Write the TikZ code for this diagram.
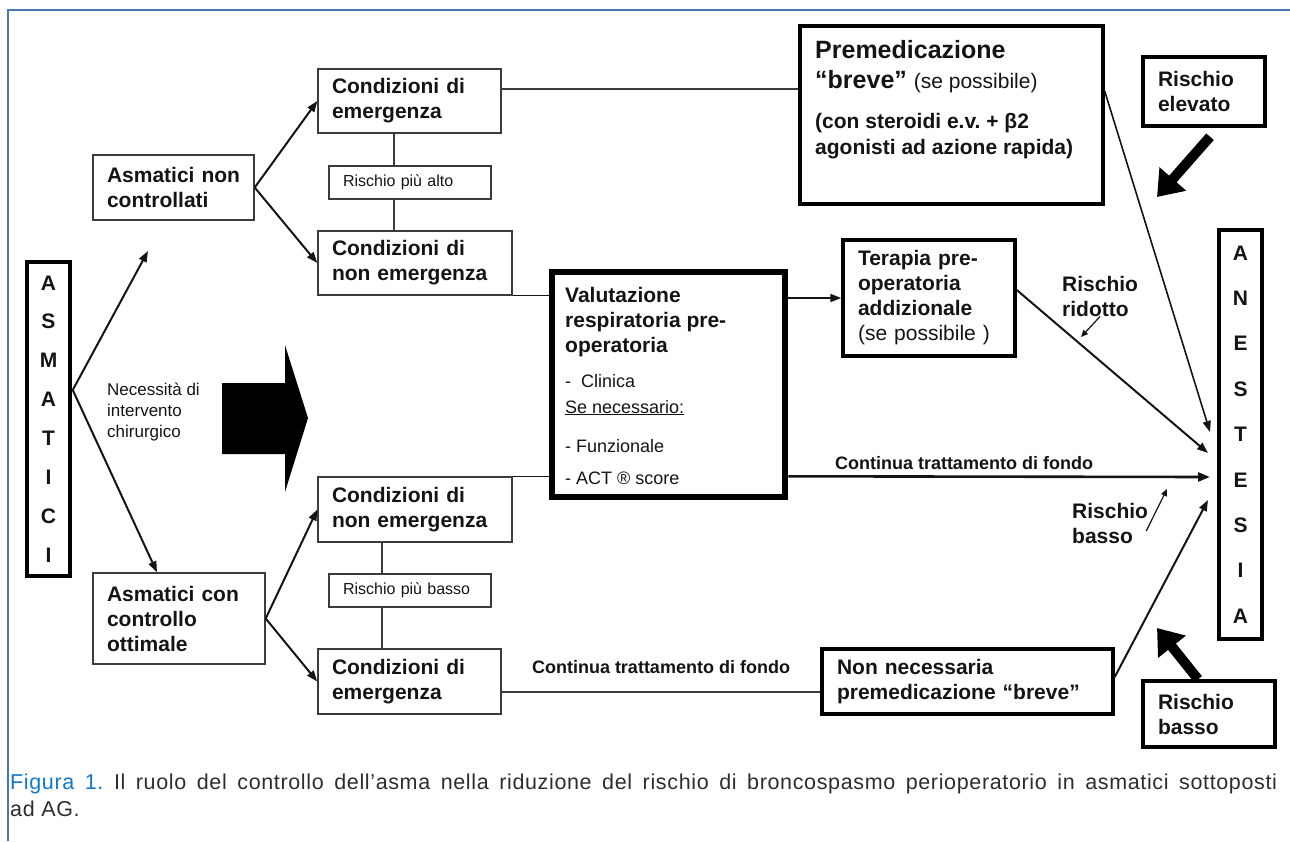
\documentclass[tikz,border=0pt]{standalone}
\usepackage{fontspec}
\setmainfont{Liberation Sans}
\usetikzlibrary{arrows.meta,calc}
\definecolor{frameblue}{RGB}{70,120,180}
\definecolor{capblue}{RGB}{20,120,200}
\definecolor{captext}{RGB}{45,45,45}
\definecolor{boxgray}{RGB}{60,60,60}
\definecolor{ink}{RGB}{20,20,20}
\begin{document}
\frenchspacing
\begin{tikzpicture}[x=1pt,y=-1pt,
  every node/.style={text=ink},
  thinbox/.style={draw=boxgray,line width=1.4pt,inner xsep=14pt,inner ysep=0pt,align=left},
  thickbox/.style={draw=black,line width=3.5pt,inner xsep=15pt,inner ysep=0pt,align=left},
  bt/.style={font=\fontsize{21}{25}\selectfont\bfseries},
  bts/.style={font=\fontsize{18}{22}\selectfont\bfseries},
  rt/.style={font=\fontsize{16}{20}\selectfont},
  vt/.style={font=\fontsize{18}{22}\selectfont},
  txt/.style={anchor=base west,inner sep=0pt},
  arr/.style={draw=ink,line width=2pt,-{Triangle[length=11pt,width=8pt]}},
  arrl/.style={draw=ink,line width=1.6pt,-{Triangle[length=11pt,width=8pt]}},
  small/.style={draw=ink,line width=1.2pt,-{Triangle[length=7pt,width=6pt]}},
  plain/.style={draw=boxgray,line width=1.4pt},
  bigarr/.style={draw=black,line width=10pt,-{Triangle[length=24pt,width=34pt]}}
]
\useasboundingbox (0,0) rectangle (1290,841);
% frame
\draw[frameblue,line width=1.5pt] (8,841) -- (8,10) -- (1290,10);

% left column
\node[thickbox,inner xsep=0pt,align=center,minimum width=43pt,minimum height=314pt,text width=43pt,
      font=\fontsize{21}{38.9}\selectfont\bfseries] (asm) at (48.5,419) {A\\S\\M\\A\\T\\I\\C\\I};
\node[thinbox,bt,minimum width=161pt,minimum height=65pt,text width=133pt] (anc) at (173.5,187.5) {\mbox{Asmatici non}\\\mbox{controllati}};
\node[thinbox,bt,minimum width=172pt,minimum height=91pt,text width=144pt] (acc) at (179,618.5) {\mbox{Asmatici con}\\controllo\\ottimale};
\node[anchor=west,align=left,inner sep=0pt,font=\fontsize{17}{21}\selectfont] (nec) at (107,412) {Necessità di\\intervento\\chirurgico};
\fill[black] (222,383) -- (285,383) -- (285,345) -- (308,418) -- (285,492) -- (285,454) -- (222,454) -- cycle;

% condizioni
\node[thinbox,bt,minimum width=183pt,minimum height=64pt,text width=155pt] (ce1) at (409.5,101) {Condizioni di\\emergenza};
\node[thinbox,rt,minimum width=162pt,minimum height=33pt,text width=134pt] (rpa) at (410,182.5) {Rischio più alto};
\node[thinbox,bt,minimum width=194pt,minimum height=64pt,text width=166pt] (cn1) at (415,263) {Condizioni di\\non emergenza};
\node[thinbox,bt,minimum width=194pt,minimum height=65pt,text width=166pt] (cn2) at (415,509.5) {Condizioni di\\non emergenza};
\node[thinbox,rt,minimum width=162pt,minimum height=33pt,text width=134pt] (rpb) at (410,590.5) {Rischio più basso};
\node[thinbox,bt,minimum width=183pt,minimum height=65pt,text width=155pt] (ce2) at (409.5,681.5) {Condizioni di\\emergenza};

% premedicazione
\node[thickbox,minimum width=303pt,minimum height=178pt] (prem) at (951.5,115) {};
\node[txt,font=\fontsize{25}{30}\selectfont\bfseries] (p1) at (815,58) {Premedicazione};
\node[txt,font=\fontsize{25}{30}\selectfont\bfseries] (p2) at (815,88) {“breve”\ {\mdseries\fontsize{21}{25}\selectfont(se possibile)}};
\node[txt,bt] (p3) at (815,128) {(con steroidi e.v. + β2};
\node[txt,bt] (p4) at (815,154) {agonisti ad azione rapida)};

\node[thickbox,bt,minimum width=122pt,minimum height=69pt,text width=92pt] (rel) at (1204,91.5) {Rischio\\elevato};

% valutazione
\node[draw=black,line width=6.5pt,minimum width=233pt,minimum height=225pt,inner sep=0pt] (val) at (668.5,384.5) {};
\node[txt,bt] (v1) at (565,302) {Valutazione};
\node[txt,bt] (v2) at (565,327) {respiratoria pre-};
\node[txt,bt] (v3) at (565,352) {operatoria};
\node[txt,vt] (v4) at (565,387) {-\ \ Clinica};
\node[txt,vt] (v5) at (565,413) {\underline{Se necessario:}};
\node[txt,vt] (v6) at (565,452) {- Funzionale};
\node[txt,vt] (v7) at (565,484) {- ACT ® score};

\node[thickbox,bt,minimum width=172pt,minimum height=116pt,text width=142pt] (ter) at (929,298) {Terapia pre-\\operatoria\\addizionale\\{\mdseries(se possibile )}};

\node[thickbox,bt,minimum width=291pt,minimum height=65pt,text width=261pt] (nn) at (967.5,681.5) {Non necessaria\\\mbox{premedicazione “breve”}};
\node[thickbox,bt,minimum width=132pt,minimum height=66pt,text width=102pt] (rb) at (1209,714) {Rischio\\basso};

\node[thickbox,inner xsep=0pt,align=center,minimum width=43pt,minimum height=409pt,text width=43pt,
      font=\fontsize{21}{45.4}\selectfont\bfseries] (ane) at (1240.5,434.5) {A\\N\\E\\S\\T\\E\\S\\I\\A};

% labels
\node[bts,inner sep=0pt] (ct1) at (964,463) {Continua trattamento di fondo};
\node[bts,inner sep=0pt] (ct2) at (661,667) {Continua trattamento di fondo};
\node[anchor=west,align=left,inner sep=0pt,bt] (rrl) at (1062,296) {Rischio\\ridotto};
\node[anchor=west,align=left,inner sep=0pt,bt] (rbl) at (1072,523) {Rischio\\basso};

% free ends
\coordinate (up) at (148,251);
\coordinate (a1) at (1210,432);
\coordinate (a2) at (1208,453);
\coordinate (a3) at (1210,477);
\coordinate (a4) at (1208,500);
\coordinate (relt) at (1157,197);
\coordinate (rbt) at (1157,628);
\coordinate (rrt) at (1081,337);
\coordinate (rbbt) at (1167,489);

% connectors left
\draw[arr] ($(asm.east)+(1,-29)$) -- (up);
\draw[arr] ($(asm.east)+(1,-29)$) -- ($(acc.north)+(-22,0)$);
\draw[arr] (anc.east) -- (ce1.west);
\draw[arr] (anc.east) -- (cn1.west);
\draw[arr] (acc.east) -- (cn2.west);
\draw[arr] (acc.east) -- (ce2.west);
\draw[plain] ($(ce1.south)+(-15.5,0)$) -- ($(rpa.north)+(-16,0)$);
\draw[plain] ($(rpa.south)+(-16,0)$) -- ($(cn1.north)+(-21,0)$);
\draw[plain] ($(cn2.south)+(-33,0)$) -- ($(rpb.north)+(-28,0)$);
\draw[plain] ($(rpb.south)+(-28,0)$) -- ($(ce2.north)+(-27.5,0)$);

% middle
\draw[plain] ($(ce1.east)+(0,-12)$) coordinate (c1) -- (c1 -| prem.west);
\draw[plain] ($(ce2.east)+(0,10.5)$) coordinate (c2) -- (c2 -| nn.west);
\draw[plain,draw=ink] (cn1.south east) -- (cn1.south east -| val.west);
\draw[plain,draw=ink] (cn2.north east) -- (cn2.north east -| val.west);
\draw[arr] (val.east |- ter.west) -- (ter.west);
\draw[draw=ink,line width=2.6pt,-{Triangle[length=12pt,width=9pt]}] (val.east |- cn2.north east) -- (a3);

% to anestesia
\draw[arrl] ($(prem.north east)+(0,67)$) -- (a1);
\draw[arr] ($(ter.east)+(0,-8)$) -- (a2);
\draw[arr] ($(nn.east)+(0,-4.5)$) -- (a4);

% risk arrows
\draw[bigarr] ($(rel.south)+(6,9)$) -- (relt);
\draw[bigarr] ($(rb.north)+(-11,0)$) -- (rbt);
\draw[small] (rrl.south) -- (rrt);
\draw[small] ($(rbl.east)+(-2,8)$) -- (rbbt);

% caption
\node[txt,font=\fontsize{21.5}{27}\selectfont\addfontfeature{LetterSpace=3},text=captext] (cap1) at (10,789)
  {\makebox[1267pt][s]{\textcolor{capblue}{Figura 1.} Il ruolo del controllo dell’asma nella riduzione del rischio di broncospasmo perioperatorio in asmatici sottoposti}};
\node[txt,font=\fontsize{21.5}{27}\selectfont\addfontfeature{LetterSpace=3},text=captext] (cap2) at (10,816) {ad AG.};
\end{tikzpicture}
\end{document}
